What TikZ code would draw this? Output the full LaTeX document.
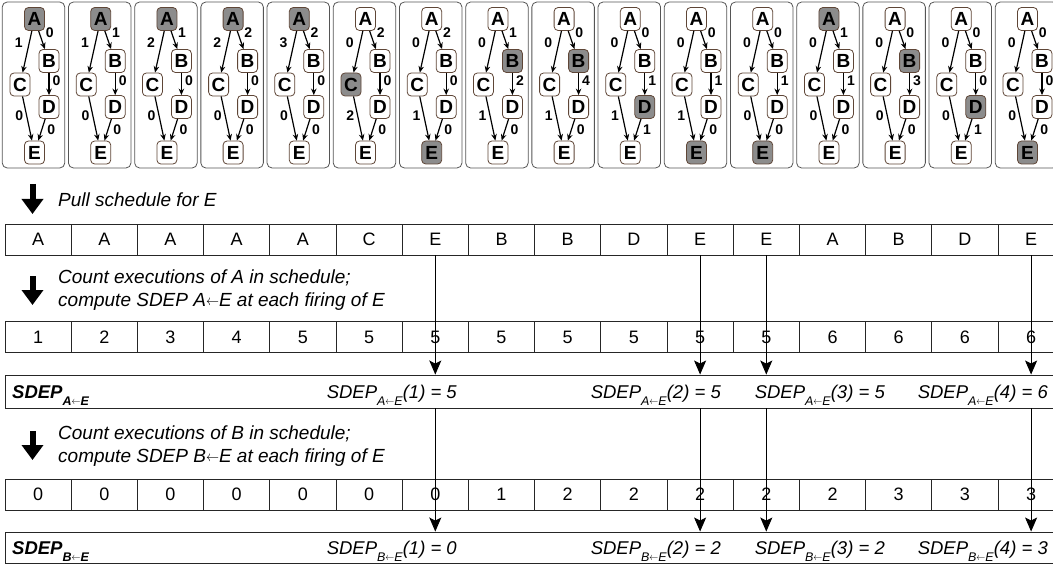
\documentclass[tikz,border=0pt]{standalone}
\usepackage{fontspec}
\setmainfont{Liberation Sans}
\usetikzlibrary{arrows.meta}
\definecolor{nodeline}{RGB}{95,70,55}
\definecolor{fired}{RGB}{140,140,140}
\definecolor{frame}{RGB}{85,85,85}
\newcommand\sdepsub[1]{\raisebox{-7.5pt}{\fontsize{12.5}{12.5}\selectfont #1}}
\newcommand\larr{\raisebox{0.12ex}{\scalebox{0.75}[0.85]{$\leftarrow$}}}

\begin{document}
\begin{tikzpicture}[x=1pt, y=-1pt,
        panel/.style={draw=frame, line width=0.8pt, rounded corners=5pt, minimum width=62.5pt, minimum height=166pt, inner sep=0pt},
        gnode/.style={draw=nodeline, line width=0.8pt, rounded corners=4pt, minimum width=20pt, minimum height=23pt, inner sep=0pt, font=\fontsize{19}{19}\selectfont\bfseries},
        gedge/.style={line width=1.2pt, -{Stealth[length=6.5pt,width=5.5pt]}},
        glabel/.style={font=\fontsize{14}{14}\selectfont\bfseries, inner sep=1pt},
        cell/.style={draw=black!85, line width=0.9pt, minimum width=66.2pt, minimum height=31pt, inner sep=0pt, font=\fontsize{18}{18}\selectfont},
        sdeprow/.style={draw=black!85, line width=0.9pt, minimum width=1060pt, inner sep=0pt, anchor=west},
        sdep/.style={font=\fontsize{18.5}{18.5}\selectfont\itshape, inner sep=0pt},
        note/.style={font=\fontsize{19}{23}\selectfont\itshape, align=left, anchor=west, inner sep=0pt},
        bigarrow/.style={line width=6pt, -{Triangle[length=15pt,width=21pt]}},
        firing/.style={line width=0.9pt, -{Stealth[length=14pt,width=12pt,inset=3pt]}}]
    \useasboundingbox (0,0) rectangle (1053,567);

    \foreach \k/\ac/\ab/\bd/\ce/\de/\hi in {1/1/0/0/0/0/A, 2/1/1/0/0/0/A, 3/2/1/0/0/0/A, 4/2/2/0/0/0/A,
            5/3/2/0/0/0/A, 6/0/2/0/2/0/C, 7/0/2/0/1/0/E, 8/0/1/2/1/0/B, 9/0/0/4/1/0/B, 10/0/0/1/1/1/D,
            11/0/0/1/1/0/E, 12/0/0/1/0/0/E, 13/0/1/1/0/0/A, 14/0/0/3/0/0/B, 15/0/0/0/0/1/D, 16/0/0/0/0/0/E} {
        \pgfmathsetmacro\cx{33.5+66.2*(\k-1)}
        \node[panel] (P\k) at (\cx, 85) {};
        \foreach \n/\dx/\dy in {A/1/19, B/15.5/61, C/-13.5/84.5, D/15.5/107, E/1/152.5} {
            \ifx\n\hi\def\fc{fired}\else\def\fc{white}\fi
            \node[gnode, fill=\fc] (\n\k) at (\cx+\dx, \dy) {\n};
        }
        \draw[gedge] (A\k) -- node[glabel, pos=.29, left=5pt] (lac\k) {\ac} (C\k);
        \draw[gedge] (A\k) -- node[glabel, pos=.1, right=5pt] (lab\k) {\ab} (B\k);
        \draw[gedge] (B\k) -- node[glabel, pos=.37, right=2pt] (lbd\k) {\bd} (D\k);
        \draw[gedge] (C\k) -- node[glabel, pos=.44, left=2pt] (lce\k) {\ce} (E\k);
        \draw[gedge] (D\k) -- node[glabel, pos=.51, right=4pt] (lde\k) {\de} (E\k);
    }

    \coordinate (pa) at (32.5,184);
    \coordinate (pb) at (32.5,214);
    \draw[bigarrow] (pa) -- (pb);
    \node[note] (pull) at (58,200) {Pull schedule for E};

    \foreach \t [count=\k] in {A,A,A,A,A,C,E,B,B,D,E,E,A,B,D,E}
        \node[cell] (s\k) at ({38.1+66.2*(\k-1)}, 239.5) {\t};

    \coordinate (ca) at (32.5,276);
    \coordinate (cb) at (32.5,305);
    \draw[bigarrow] (ca) -- (cb);
    \node[note] (countA) at (58,290.5) {Count executions of A in schedule;\\compute SDEP A\larr E at each firing of E};

    \foreach \t [count=\k] in {1,2,3,4,5,5,5,5,5,5,5,5,6,6,6,6}
        \node[cell] (a\k) at ({38.1+66.2*(\k-1)}, 337) {\t};

    \node[sdeprow, minimum height=33pt] (rowA) at (5,391.5) {};
    \node[sdep, font=\fontsize{18.5}{18.5}\selectfont\bfseries\itshape, anchor=base west] (labA) at (12,398) {SDEP\sdepsub{A\larr E}};
    \foreach \x/\n/\v in {457/1/5, 721/2/5, 885/3/5, 1048/4/6}
        \node[sdep, anchor=base east] (ea\n) at (\x,398) {SDEP\sdepsub{A\larr E}(\n) = \v};

    \coordinate (da) at (32.5,431);
    \coordinate (db) at (32.5,460);
    \draw[bigarrow] (da) -- (db);
    \node[note] (countB) at (58,446) {Count executions of B in schedule;\\compute SDEP B\larr E at each firing of E};

    \foreach \t [count=\k] in {0,0,0,0,0,0,0,1,2,2,2,2,2,3,3,3}
        \node[cell] (b\k) at ({38.1+66.2*(\k-1)}, 494.5) {\t};

    \node[sdeprow, minimum height=31pt] (rowB) at (5,547.5) {};
    \node[sdep, font=\fontsize{18.5}{18.5}\selectfont\bfseries\itshape, anchor=base west] (labB) at (12,554) {SDEP\sdepsub{B\larr E}};
    \foreach \x/\n/\v in {457/1/0, 721/2/2, 885/3/2, 1048/4/3}
        \node[sdep, anchor=base east] (eb\n) at (\x,554) {SDEP\sdepsub{B\larr E}(\n) = \v};

    \foreach \k in {7,11,12,16} {
        \draw[firing] (s\k.south) -- (s\k |- rowA.north);
        \draw[firing] (s\k |- rowA.south) -- (s\k |- rowB.north);
    }
\end{tikzpicture}
\end{document}
